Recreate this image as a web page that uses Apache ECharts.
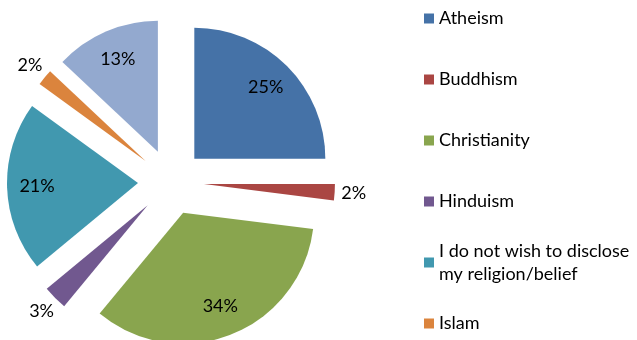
<!DOCTYPE html>
<html>
<head>
<meta charset="utf-8">
<script src="https://cdn.jsdelivr.net/npm/echarts@6/dist/echarts.min.js"></script>
<style>
  html, body { margin: 0; padding: 0; background: #ffffff; }
  #chart { width: 637px; height: 340px; }
</style>
</head>
<body>
<div id="chart"></div>
<script>
// Religion / belief breakdown (percent of respondents)
const categories = [
  'Atheism',
  'Buddhism',
  'Christianity',
  'Hinduism',
  'I do not wish to disclose my religion/belief',
  'Islam',
  'Other'
];
const shares = [25, 2, 34, 3, 21, 2, 13];
const legendNames = categories.slice(0, 6);
const palette = ['#4572A7', '#AA4643', '#89A54E', '#71588F', '#4198AF', '#DB843D', '#93A9CF'];

const FONT = 'Lato';
const TEXT_COLOR = '#000000';
const CENTER = [171, 182];
const RADIUS = 131;
const EXPLODE = 33;          // every slice is pulled out from the centre
const SMALL_SHARE = 5;       // slices below this get their label outside
const INNER_LABEL_DIST = 101;
const OUTER_LABEL_DIST = 150;

const chart = echarts.init(document.getElementById('chart'), null, { renderer: 'canvas' });

const pieBase = {
  type: 'pie',
  center: CENTER,
  startAngle: 90,
  clockwise: true,
  selectedMode: 'multiple',
  selectedOffset: EXPLODE,
  avoidLabelOverlap: false,
  emphasis: { disabled: true },
  labelLine: { show: false },
  animation: false
};

// Visible slices
const slices = categories.map((name, i) => ({
  name, value: shares[i], selected: true,
  itemStyle: { color: palette[i] }
}));

// Transparent copies of the pie that only carry the percentage labels
function labelRing(dist, showFor) {
  return Object.assign({}, pieBase, {
    silent: true,
    radius: [0, 2 * (dist - 3)],
    itemStyle: { color: 'rgba(0,0,0,0)' },
    label: {
      position: 'inside',
      formatter: p => p.value + '%',
      fontFamily: FONT,
      fontSize: 18,
      color: TEXT_COLOR
    },
    data: categories.map((name, i) => ({
      name, value: shares[i], selected: true,
      label: { show: showFor(shares[i]) }
    }))
  });
}

// One legend block per entry so all markers sit on an even pitch
const LEGEND_FIRST = 18.5;
const LEGEND_PITCH = 61;
const LINE_H = 23;
const legends = legendNames.map((name, i) => {
  const label = name.replace(' my religion', '\nmy religion');
  const lines = label.split('\n').length;
  const c = LEGEND_FIRST + i * LEGEND_PITCH;
  const extra = (lines - 1) * LINE_H;
  return {
    data: [name],
    orient: 'vertical',
    left: 424,
    top: c - LINE_H / 2 - extra,
    padding: 0,
    icon: 'rect',
    itemWidth: 10,
    itemHeight: 10,
    selectedMode: false,
    formatter: n => n.replace(' my religion', '\nmy religion'),
    textStyle: {
      fontFamily: FONT,
      fontSize: 18,
      lineHeight: LINE_H,
      color: TEXT_COLOR,
      padding: [extra, 0, 0, 0]
    }
  };
});

chart.setOption({
  backgroundColor: '#ffffff',
  legend: legends,
  series: [
    Object.assign({}, pieBase, { radius: RADIUS, label: { show: false }, data: slices }),
    labelRing(INNER_LABEL_DIST, v => v >= SMALL_SHARE),
    labelRing(OUTER_LABEL_DIST, v => v < SMALL_SHARE)
  ]
});
</script>
</body>
</html>
